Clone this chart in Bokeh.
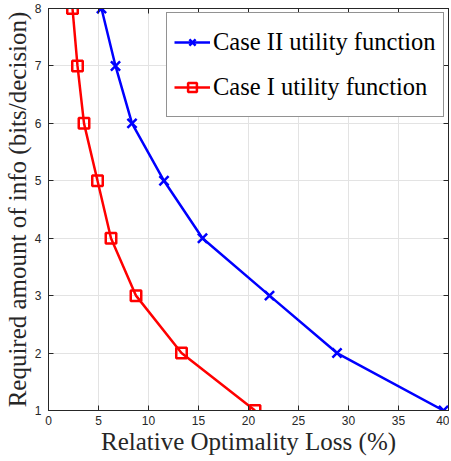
from bokeh.plotting import figure
from bokeh.models import LinearAxis, Legend, LegendItem, Range1d, FixedTicker
from bokeh.embed import file_html
from bokeh.resources import INLINE

bits = [8, 7, 6, 5, 4, 3, 2, 1]
case2_loss = [5.3, 6.7, 8.35, 11.55, 15.4, 22.1, 28.85, 39.5]
case1_loss = [2.4, 2.9, 3.55, 4.9, 6.25, 8.75, 13.3, 20.65]
x_ticks = [0, 5, 10, 15, 20, 25, 30, 35, 40]
y_ticks = [1, 2, 3, 4, 5, 6, 7, 8]

AX = "#262626"
GRID = "#e3e3e3"

p = figure(frame_width=400, frame_height=402,
           min_border_left=42, min_border_right=1, min_border_top=8, min_border_bottom=51,
           x_range=Range1d(0, 40), y_range=Range1d(1, 8),
           output_backend="svg", toolbar_location=None,
           x_axis_label="Relative Optimality Loss (%)",
           y_axis_label="Required amount of info (bits/decision)")
p.background_fill_color = "white"
p.border_fill_color = "white"
p.outline_line_color = AX
p.outline_line_width = 1

for ax, ticks in ((p.xaxis[0], x_ticks), (p.yaxis[0], y_ticks)):
    ax.ticker = FixedTicker(ticks=ticks)
    ax.major_tick_in = 5
    ax.major_tick_out = 0
    ax.minor_tick_line_color = None
    ax.axis_line_color = AX
    ax.major_tick_line_color = AX
    ax.major_label_text_font = "Liberation Sans"
    ax.major_label_text_font_size = "12px"
    ax.major_label_text_color = AX
    ax.axis_label_text_font = "Liberation Serif"
    ax.axis_label_text_font_style = "normal"
    ax.axis_label_text_font_size = "25px"
    ax.axis_label_text_color = AX
p.xaxis[0].major_label_standoff = 5
p.xaxis[0].axis_label_standoff = 0
p.yaxis[0].major_label_standoff = 7
p.yaxis[0].axis_label_standoff = 1

for loc, ticks in (("above", x_ticks), ("right", y_ticks)):
    a = LinearAxis(ticker=FixedTicker(ticks=ticks))
    a.major_tick_in = 5
    a.major_tick_out = 0
    a.minor_tick_line_color = None
    a.axis_line_color = AX
    a.major_tick_line_color = AX
    a.major_label_text_color = None
    a.major_label_text_font_size = "1px"
    a.major_label_standoff = 0
    p.add_layout(a, loc)

p.xgrid.ticker = FixedTicker(ticks=x_ticks)
p.ygrid.ticker = FixedTicker(ticks=y_ticks)
p.xgrid.grid_line_color = GRID
p.ygrid.grid_line_color = GRID

l2 = p.line(case2_loss, bits, line_color="#0000ff", line_width=2.5)
m2 = p.scatter(case2_loss, bits, marker="x", size=13, line_color="#0000ff", line_width=2.5)
l1 = p.line(case1_loss, bits, line_color="#ff0000", line_width=2.5)
m1 = p.scatter(case1_loss, bits, marker="square", size=10.5, line_color="#ff0000",
               line_width=2.5, fill_alpha=0)

legend = Legend(items=[LegendItem(label="Case II utility function", renderers=[l2, m2]),
                       LegendItem(label="Case I utility function", renderers=[l1, m1])],
                location=(118, 293))
legend.label_text_font = "Liberation Serif"
legend.label_text_font_size = "24.5px"
legend.label_text_color = "black"
legend.glyph_width = 36
legend.glyph_height = 22
legend.label_height = 44
legend.label_standoff = 3
legend.spacing = 1
legend.padding = 7
legend.margin = 0
legend.border_line_color = AX
legend.border_line_width = 1
legend.background_fill_alpha = 1
p.add_layout(legend, "center")

open("out.html", "w").write(file_html(p, INLINE))
